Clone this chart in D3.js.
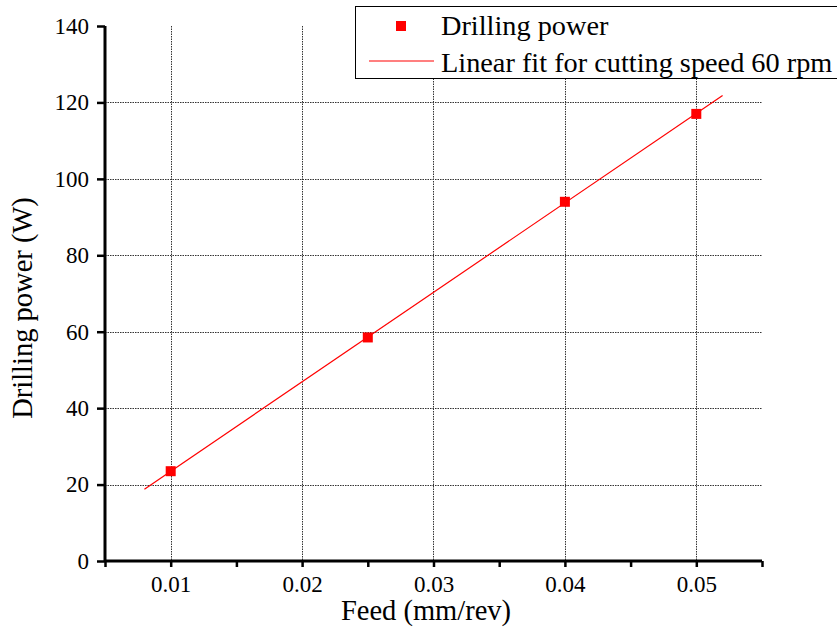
<!DOCTYPE html>
<html>
<head>
<meta charset="utf-8">
<script src="https://cdn.jsdelivr.net/npm/d3@7"></script>
<style>
  body { margin: 0; background: #fff; }
  svg { display: block; font-family: "Liberation Serif", "Times New Roman", serif; }
</style>
</head>
<body>
<script>
"use strict";

// measured points
let feed = [0.01, 0.025, 0.04, 0.05];
let power = [23.5, 58.5, 94, 117];

// ends of the linear fit as drawn
let fitFeed = [0.008, 0.052];
let fitPower = [18.8, 121.8];

let xTicks = [0.01, 0.02, 0.03, 0.04, 0.05];
let xMinor = [0.005, 0.015, 0.025, 0.035, 0.045, 0.055];
let yTicks = [0, 20, 40, 60, 80, 100, 120, 140];

let legendLabels = ["Drilling power", "Linear fit for cutting speed 60 rpm"];

let W = 837, H = 634;
let pLeft = 105, pRight = 762, pTop = 26, pBottom = 561;

let svg = d3.select("body").append("svg").attr("width", W).attr("height", H);

let x = d3.scaleLinear().domain([0.005, 0.055]).range([pLeft, pRight]);
let y = d3.scaleLinear().domain([0, 140]).range([pBottom, pTop]);

// grid
let grid = svg.append("g").attr("stroke", "#333").attr("stroke-width", 1).attr("stroke-dasharray", "1.5,1");
grid.selectAll(".gx").data(xTicks).enter().append("line")
    .attr("x1", d => Math.round(x(d)) + 0.5).attr("x2", d => Math.round(x(d)) + 0.5)
    .attr("y1", pTop).attr("y2", pBottom);
grid.selectAll(".gy").data(yTicks.filter(d => d > 0 && d < 140)).enter().append("line")
    .attr("y1", d => Math.round(y(d)) + 0.5).attr("y2", d => Math.round(y(d)) + 0.5)
    .attr("x1", pLeft).attr("x2", pRight);

// axes
let xAxis = svg.append("g").attr("transform", `translate(0,${pBottom})`)
    .call(d3.axisBottom(x).tickValues(xTicks).tickFormat(d3.format(".2f")).tickSize(6).tickPadding(9));
let xMin = svg.append("g").attr("transform", `translate(0,${pBottom})`)
    .call(d3.axisBottom(x).tickValues(xMinor).tickFormat("").tickSize(6));
xMin.select(".domain").remove();

let yAxis = svg.append("g").attr("transform", `translate(${pLeft},0)`)
    .call(d3.axisLeft(y).tickValues(yTicks).tickSize(8).tickPadding(8));

[xAxis, xMin, yAxis].forEach(g => {
    g.selectAll("path.domain").attr("stroke", "#000").attr("stroke-width", 3);
    g.selectAll(".tick line").attr("stroke", "#000").attr("stroke-width", 2.5);
    g.selectAll(".tick text").attr("fill", "#000").style("font-size", "23px")
        .style("font-family", "'Liberation Serif', 'Times New Roman', serif");
});
xAxis.select(".domain").attr("d", `M${pLeft},0H${pRight}`);
yAxis.select(".domain").attr("d", `M0,${pBottom}V${pTop}`);

// titles
svg.append("text").attr("x", 426).attr("y", 620)
    .attr("text-anchor", "middle").style("font-size", "28.5px").text("Feed (mm/rev)");
svg.append("text").attr("transform", "translate(32,308) rotate(-90)")
    .attr("text-anchor", "middle").style("font-size", "28.5px").text("Drilling power (W)");

// fit line
svg.append("line")
    .attr("x1", x(fitFeed[0])).attr("y1", y(fitPower[0]))
    .attr("x2", x(fitFeed[1])).attr("y2", y(fitPower[1]))
    .attr("stroke", "red").attr("stroke-width", 1.2);

// markers
svg.selectAll(".pt").data(feed).enter().append("rect")
    .attr("x", (d) => x(d) - 5).attr("y", (d, i) => y(power[i]) - 5)
    .attr("width", 10).attr("height", 10).attr("fill", "red");

// legend
let lg = svg.append("g");
lg.append("rect").attr("x", 355.5).attr("y", 6.5).attr("width", 490).attr("height", 72)
    .attr("fill", "#fff").attr("stroke", "#000").attr("stroke-width", 1);
lg.append("rect").attr("x", 396).attr("y", 21).attr("width", 10).attr("height", 10).attr("fill", "red");
lg.append("line").attr("x1", 369).attr("x2", 434).attr("y1", 61).attr("y2", 61)
    .attr("stroke", "red").attr("stroke-width", 1.2);
lg.selectAll(".lt").data(legendLabels).enter().append("text")
    .attr("x", 441).attr("y", (d, i) => 35 + i * 36.5)
    .style("font-size", "28.3px").text(d => d);
</script>
</body>
</html>
